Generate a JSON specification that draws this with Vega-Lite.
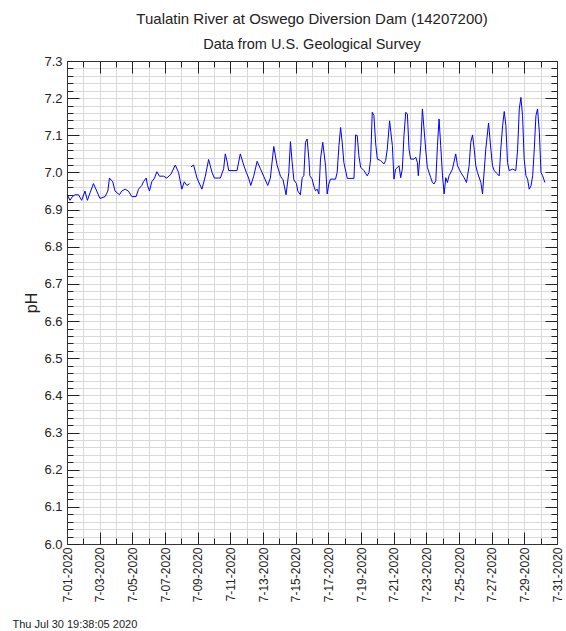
{
  "$schema": "https://vega.github.io/schema/vega-lite/v6.json",
  "width": 490,
  "height": 483,
  "padding": {"left": 12, "top": 12, "right": 2, "bottom": 3},
  "config": {"view": {"stroke": null}, "font": "Liberation Sans"},
  "title": {
    "text": "Tualatin River at Oswego Diversion Dam (14207200)",
    "subtitle": "Data from U.S. Geological Survey",
    "font": "Liberation Sans",
    "fontSize": 15,
    "fontWeight": "normal",
    "color": "#222222",
    "subtitleFont": "Liberation Sans",
    "subtitleFontSize": 14.5,
    "subtitleColor": "#222222",
    "subtitlePadding": 10.5,
    "anchor": "middle",
    "frame": "group",
    "offset": 4
  },
  "data": {
    "values": [
      {"t": "2020-07-01T00:30:00Z", "ph": 6.94, "seg": "a"},
      {"t": "2020-07-01T04:20:00Z", "ph": 6.925, "seg": "a"},
      {"t": "2020-07-01T08:00:00Z", "ph": 6.935, "seg": "a"},
      {"t": "2020-07-01T11:45:00Z", "ph": 6.94, "seg": "a"},
      {"t": "2020-07-01T16:50:00Z", "ph": 6.94, "seg": "a"},
      {"t": "2020-07-01T21:35:00Z", "ph": 6.925, "seg": "a"},
      {"t": "2020-07-02T02:25:00Z", "ph": 6.95, "seg": "a"},
      {"t": "2020-07-02T06:00:00Z", "ph": 6.925, "seg": "a"},
      {"t": "2020-07-02T09:50:00Z", "ph": 6.945, "seg": "a"},
      {"t": "2020-07-02T14:53:00Z", "ph": 6.97, "seg": "a"},
      {"t": "2020-07-02T19:41:00Z", "ph": 6.95, "seg": "a"},
      {"t": "2020-07-03T00:29:00Z", "ph": 6.93, "seg": "a"},
      {"t": "2020-07-03T07:55:00Z", "ph": 6.935, "seg": "a"},
      {"t": "2020-07-03T12:00:00Z", "ph": 6.95, "seg": "a"},
      {"t": "2020-07-03T14:24:00Z", "ph": 6.985, "seg": "a"},
      {"t": "2020-07-03T19:12:00Z", "ph": 6.975, "seg": "a"},
      {"t": "2020-07-03T22:34:00Z", "ph": 6.95, "seg": "a"},
      {"t": "2020-07-04T05:02:00Z", "ph": 6.94, "seg": "a"},
      {"t": "2020-07-04T08:24:00Z", "ph": 6.95, "seg": "a"},
      {"t": "2020-07-04T13:26:00Z", "ph": 6.955, "seg": "a"},
      {"t": "2020-07-04T18:14:00Z", "ph": 6.95, "seg": "a"},
      {"t": "2020-07-04T23:17:00Z", "ph": 6.935, "seg": "a"},
      {"t": "2020-07-05T05:31:00Z", "ph": 6.935, "seg": "a"},
      {"t": "2020-07-05T09:07:00Z", "ph": 6.955, "seg": "a"},
      {"t": "2020-07-05T13:55:00Z", "ph": 6.965, "seg": "a"},
      {"t": "2020-07-05T16:19:00Z", "ph": 6.975, "seg": "a"},
      {"t": "2020-07-05T20:24:00Z", "ph": 6.985, "seg": "a"},
      {"t": "2020-07-05T22:19:00Z", "ph": 6.965, "seg": "a"},
      {"t": "2020-07-06T01:12:00Z", "ph": 6.95, "seg": "a"},
      {"t": "2020-07-06T04:34:00Z", "ph": 6.975, "seg": "a"},
      {"t": "2020-07-06T08:38:00Z", "ph": 6.985, "seg": "a"},
      {"t": "2020-07-06T12:00:00Z", "ph": 7.002, "seg": "a"},
      {"t": "2020-07-06T15:50:00Z", "ph": 6.99, "seg": "a"},
      {"t": "2020-07-06T21:50:00Z", "ph": 6.99, "seg": "a"},
      {"t": "2020-07-07T02:38:00Z", "ph": 6.985, "seg": "a"},
      {"t": "2020-07-07T08:38:00Z", "ph": 6.995, "seg": "a"},
      {"t": "2020-07-07T15:07:00Z", "ph": 7.02, "seg": "a"},
      {"t": "2020-07-07T19:55:00Z", "ph": 7.0, "seg": "a"},
      {"t": "2020-07-08T00:43:00Z", "ph": 6.955, "seg": "a"},
      {"t": "2020-07-08T04:19:00Z", "ph": 6.975, "seg": "a"},
      {"t": "2020-07-08T08:10:00Z", "ph": 6.965, "seg": "a"},
      {"t": "2020-07-08T12:14:00Z", "ph": 6.97, "seg": "a"},
      {"t": "2020-07-08T14:10:00Z", "ph": 7.015, "seg": "b"},
      {"t": "2020-07-08T18:00:00Z", "ph": 7.02, "seg": "b"},
      {"t": "2020-07-08T23:02:00Z", "ph": 6.985, "seg": "b"},
      {"t": "2020-07-09T06:14:00Z", "ph": 6.955, "seg": "b"},
      {"t": "2020-07-09T11:17:00Z", "ph": 6.99, "seg": "b"},
      {"t": "2020-07-09T16:05:00Z", "ph": 7.035, "seg": "b"},
      {"t": "2020-07-09T21:07:00Z", "ph": 7.0, "seg": "b"},
      {"t": "2020-07-10T00:29:00Z", "ph": 6.985, "seg": "b"},
      {"t": "2020-07-10T09:22:00Z", "ph": 6.985, "seg": "b"},
      {"t": "2020-07-10T14:10:00Z", "ph": 7.01, "seg": "b"},
      {"t": "2020-07-10T16:34:00Z", "ph": 7.05, "seg": "b"},
      {"t": "2020-07-10T19:12:00Z", "ph": 7.03, "seg": "b"},
      {"t": "2020-07-10T21:36:00Z", "ph": 7.005, "seg": "b"},
      {"t": "2020-07-11T09:50:00Z", "ph": 7.005, "seg": "b"},
      {"t": "2020-07-11T14:38:00Z", "ph": 7.05, "seg": "b"},
      {"t": "2020-07-11T19:41:00Z", "ph": 7.02, "seg": "b"},
      {"t": "2020-07-11T23:31:00Z", "ph": 7.0, "seg": "b"},
      {"t": "2020-07-12T02:53:00Z", "ph": 6.985, "seg": "b"},
      {"t": "2020-07-12T06:00:00Z", "ph": 6.965, "seg": "b"},
      {"t": "2020-07-12T10:19:00Z", "ph": 6.99, "seg": "b"},
      {"t": "2020-07-12T15:22:00Z", "ph": 7.03, "seg": "b"},
      {"t": "2020-07-12T20:10:00Z", "ph": 7.01, "seg": "b"},
      {"t": "2020-07-13T00:58:00Z", "ph": 6.99, "seg": "b"},
      {"t": "2020-07-13T06:58:00Z", "ph": 6.965, "seg": "b"},
      {"t": "2020-07-13T10:48:00Z", "ph": 6.985, "seg": "b"},
      {"t": "2020-07-13T15:50:00Z", "ph": 7.07, "seg": "b"},
      {"t": "2020-07-13T20:38:00Z", "ph": 7.02, "seg": "b"},
      {"t": "2020-07-14T01:41:00Z", "ph": 6.99, "seg": "b"},
      {"t": "2020-07-14T05:31:00Z", "ph": 6.98, "seg": "b"},
      {"t": "2020-07-14T09:50:00Z", "ph": 6.94, "seg": "b"},
      {"t": "2020-07-14T13:55:00Z", "ph": 7.0, "seg": "b"},
      {"t": "2020-07-14T16:19:00Z", "ph": 7.083, "seg": "b"},
      {"t": "2020-07-14T18:43:00Z", "ph": 7.03, "seg": "b"},
      {"t": "2020-07-14T21:22:00Z", "ph": 6.98, "seg": "b"},
      {"t": "2020-07-15T01:12:00Z", "ph": 6.97, "seg": "b"},
      {"t": "2020-07-15T03:07:00Z", "ph": 6.95, "seg": "b"},
      {"t": "2020-07-15T06:58:00Z", "ph": 6.94, "seg": "b"},
      {"t": "2020-07-15T09:36:00Z", "ph": 6.986, "seg": "b"},
      {"t": "2020-07-15T12:00:00Z", "ph": 6.991, "seg": "b"},
      {"t": "2020-07-15T14:24:00Z", "ph": 7.081, "seg": "b"},
      {"t": "2020-07-15T16:48:00Z", "ph": 7.09, "seg": "b"},
      {"t": "2020-07-15T19:26:00Z", "ph": 7.036, "seg": "b"},
      {"t": "2020-07-15T20:53:00Z", "ph": 6.991, "seg": "b"},
      {"t": "2020-07-16T00:14:00Z", "ph": 6.982, "seg": "b"},
      {"t": "2020-07-16T02:38:00Z", "ph": 6.964, "seg": "b"},
      {"t": "2020-07-16T05:02:00Z", "ph": 6.951, "seg": "b"},
      {"t": "2020-07-16T07:41:00Z", "ph": 6.955, "seg": "b"},
      {"t": "2020-07-16T10:05:00Z", "ph": 6.942, "seg": "b"},
      {"t": "2020-07-16T12:29:00Z", "ph": 7.036, "seg": "b"},
      {"t": "2020-07-16T15:50:00Z", "ph": 7.081, "seg": "b"},
      {"t": "2020-07-16T19:55:00Z", "ph": 7.018, "seg": "b"},
      {"t": "2020-07-16T22:19:00Z", "ph": 6.942, "seg": "b"},
      {"t": "2020-07-17T00:43:00Z", "ph": 6.969, "seg": "b"},
      {"t": "2020-07-17T03:07:00Z", "ph": 6.982, "seg": "b"},
      {"t": "2020-07-17T10:34:00Z", "ph": 6.982, "seg": "b"},
      {"t": "2020-07-17T12:58:00Z", "ph": 7.0, "seg": "b"},
      {"t": "2020-07-17T15:36:00Z", "ph": 7.072, "seg": "b"},
      {"t": "2020-07-17T18:00:00Z", "ph": 7.121, "seg": "b"},
      {"t": "2020-07-17T20:24:00Z", "ph": 7.081, "seg": "b"},
      {"t": "2020-07-17T22:48:00Z", "ph": 7.027, "seg": "b"},
      {"t": "2020-07-18T03:50:00Z", "ph": 6.984, "seg": "b"},
      {"t": "2020-07-18T13:41:00Z", "ph": 6.984, "seg": "b"},
      {"t": "2020-07-18T16:05:00Z", "ph": 7.101, "seg": "b"},
      {"t": "2020-07-18T18:29:00Z", "ph": 7.099, "seg": "b"},
      {"t": "2020-07-18T20:53:00Z", "ph": 7.045, "seg": "b"},
      {"t": "2020-07-18T23:31:00Z", "ph": 7.014, "seg": "b"},
      {"t": "2020-07-19T04:19:00Z", "ph": 7.005, "seg": "b"},
      {"t": "2020-07-19T09:07:00Z", "ph": 6.991, "seg": "b"},
      {"t": "2020-07-19T11:46:00Z", "ph": 7.0, "seg": "b"},
      {"t": "2020-07-19T14:10:00Z", "ph": 7.036, "seg": "b"},
      {"t": "2020-07-19T16:34:00Z", "ph": 7.162, "seg": "b"},
      {"t": "2020-07-19T18:58:00Z", "ph": 7.153, "seg": "b"},
      {"t": "2020-07-19T21:36:00Z", "ph": 7.077, "seg": "b"},
      {"t": "2020-07-20T00:00:00Z", "ph": 7.036, "seg": "b"},
      {"t": "2020-07-20T04:48:00Z", "ph": 7.032, "seg": "b"},
      {"t": "2020-07-20T09:50:00Z", "ph": 7.023, "seg": "b"},
      {"t": "2020-07-20T12:14:00Z", "ph": 7.032, "seg": "b"},
      {"t": "2020-07-20T14:38:00Z", "ph": 7.063, "seg": "b"},
      {"t": "2020-07-20T18:00:00Z", "ph": 7.139, "seg": "b"},
      {"t": "2020-07-20T22:05:00Z", "ph": 7.072, "seg": "b"},
      {"t": "2020-07-21T00:29:00Z", "ph": 6.982, "seg": "b"},
      {"t": "2020-07-21T02:53:00Z", "ph": 7.009, "seg": "b"},
      {"t": "2020-07-21T07:55:00Z", "ph": 7.018, "seg": "b"},
      {"t": "2020-07-21T10:19:00Z", "ph": 6.986, "seg": "b"},
      {"t": "2020-07-21T12:43:00Z", "ph": 7.009, "seg": "b"},
      {"t": "2020-07-21T15:07:00Z", "ph": 7.099, "seg": "b"},
      {"t": "2020-07-21T17:46:00Z", "ph": 7.162, "seg": "b"},
      {"t": "2020-07-21T20:10:00Z", "ph": 7.157, "seg": "b"},
      {"t": "2020-07-21T22:34:00Z", "ph": 7.063, "seg": "b"},
      {"t": "2020-07-22T00:58:00Z", "ph": 7.036, "seg": "b"},
      {"t": "2020-07-22T06:00:00Z", "ph": 7.036, "seg": "b"},
      {"t": "2020-07-22T08:24:00Z", "ph": 7.041, "seg": "b"},
      {"t": "2020-07-22T10:48:00Z", "ph": 7.027, "seg": "b"},
      {"t": "2020-07-22T12:14:00Z", "ph": 6.991, "seg": "b"},
      {"t": "2020-07-22T15:50:00Z", "ph": 7.072, "seg": "b"},
      {"t": "2020-07-22T18:14:00Z", "ph": 7.171, "seg": "b"},
      {"t": "2020-07-22T20:38:00Z", "ph": 7.117, "seg": "b"},
      {"t": "2020-07-22T23:02:00Z", "ph": 7.063, "seg": "b"},
      {"t": "2020-07-23T01:26:00Z", "ph": 7.014, "seg": "b"},
      {"t": "2020-07-23T06:29:00Z", "ph": 6.986, "seg": "b"},
      {"t": "2020-07-23T08:53:00Z", "ph": 6.973, "seg": "b"},
      {"t": "2020-07-23T11:17:00Z", "ph": 6.969, "seg": "b"},
      {"t": "2020-07-23T13:55:00Z", "ph": 6.978, "seg": "b"},
      {"t": "2020-07-23T16:19:00Z", "ph": 7.072, "seg": "b"},
      {"t": "2020-07-23T18:43:00Z", "ph": 7.144, "seg": "b"},
      {"t": "2020-07-23T21:07:00Z", "ph": 7.072, "seg": "b"},
      {"t": "2020-07-23T23:46:00Z", "ph": 6.991, "seg": "b"},
      {"t": "2020-07-24T02:10:00Z", "ph": 6.942, "seg": "b"},
      {"t": "2020-07-24T04:34:00Z", "ph": 6.986, "seg": "b"},
      {"t": "2020-07-24T06:58:00Z", "ph": 6.973, "seg": "b"},
      {"t": "2020-07-24T09:22:00Z", "ph": 6.991, "seg": "b"},
      {"t": "2020-07-24T14:24:00Z", "ph": 7.009, "seg": "b"},
      {"t": "2020-07-24T19:12:00Z", "ph": 7.05, "seg": "b"},
      {"t": "2020-07-24T21:50:00Z", "ph": 7.018, "seg": "b"},
      {"t": "2020-07-25T02:38:00Z", "ph": 7.0, "seg": "b"},
      {"t": "2020-07-25T07:26:00Z", "ph": 6.986, "seg": "b"},
      {"t": "2020-07-25T11:02:00Z", "ph": 6.973, "seg": "b"},
      {"t": "2020-07-25T14:53:00Z", "ph": 7.018, "seg": "b"},
      {"t": "2020-07-25T17:17:00Z", "ph": 7.081, "seg": "b"},
      {"t": "2020-07-25T19:55:00Z", "ph": 7.101, "seg": "b"},
      {"t": "2020-07-25T22:19:00Z", "ph": 7.063, "seg": "b"},
      {"t": "2020-07-26T00:43:00Z", "ph": 7.018, "seg": "b"},
      {"t": "2020-07-26T03:07:00Z", "ph": 7.0, "seg": "b"},
      {"t": "2020-07-26T08:10:00Z", "ph": 6.973, "seg": "b"},
      {"t": "2020-07-26T10:34:00Z", "ph": 6.942, "seg": "b"},
      {"t": "2020-07-26T15:22:00Z", "ph": 7.063, "seg": "b"},
      {"t": "2020-07-26T19:26:00Z", "ph": 7.133, "seg": "b"},
      {"t": "2020-07-26T22:48:00Z", "ph": 7.063, "seg": "b"},
      {"t": "2020-07-27T01:12:00Z", "ph": 7.018, "seg": "b"},
      {"t": "2020-07-27T03:36:00Z", "ph": 7.005, "seg": "b"},
      {"t": "2020-07-27T08:38:00Z", "ph": 6.996, "seg": "b"},
      {"t": "2020-07-27T11:02:00Z", "ph": 6.991, "seg": "b"},
      {"t": "2020-07-27T13:26:00Z", "ph": 7.063, "seg": "b"},
      {"t": "2020-07-27T16:05:00Z", "ph": 7.126, "seg": "b"},
      {"t": "2020-07-27T18:29:00Z", "ph": 7.164, "seg": "b"},
      {"t": "2020-07-27T20:53:00Z", "ph": 7.126, "seg": "b"},
      {"t": "2020-07-27T23:17:00Z", "ph": 7.027, "seg": "b"},
      {"t": "2020-07-28T01:41:00Z", "ph": 7.005, "seg": "b"},
      {"t": "2020-07-28T06:43:00Z", "ph": 7.009, "seg": "b"},
      {"t": "2020-07-28T11:31:00Z", "ph": 7.005, "seg": "b"},
      {"t": "2020-07-28T14:10:00Z", "ph": 7.063, "seg": "b"},
      {"t": "2020-07-28T16:34:00Z", "ph": 7.171, "seg": "b"},
      {"t": "2020-07-28T18:58:00Z", "ph": 7.202, "seg": "b"},
      {"t": "2020-07-28T21:22:00Z", "ph": 7.153, "seg": "b"},
      {"t": "2020-07-28T23:46:00Z", "ph": 7.036, "seg": "b"},
      {"t": "2020-07-29T02:24:00Z", "ph": 6.991, "seg": "b"},
      {"t": "2020-07-29T04:48:00Z", "ph": 6.982, "seg": "b"},
      {"t": "2020-07-29T07:12:00Z", "ph": 6.955, "seg": "b"},
      {"t": "2020-07-29T09:50:00Z", "ph": 6.964, "seg": "b"},
      {"t": "2020-07-29T12:14:00Z", "ph": 6.991, "seg": "b"},
      {"t": "2020-07-29T14:38:00Z", "ph": 7.063, "seg": "b"},
      {"t": "2020-07-29T17:02:00Z", "ph": 7.153, "seg": "b"},
      {"t": "2020-07-29T19:26:00Z", "ph": 7.171, "seg": "b"},
      {"t": "2020-07-29T22:05:00Z", "ph": 7.108, "seg": "b"},
      {"t": "2020-07-30T00:29:00Z", "ph": 7.0, "seg": "b"},
      {"t": "2020-07-30T02:53:00Z", "ph": 6.991, "seg": "b"},
      {"t": "2020-07-30T06:14:00Z", "ph": 6.973, "seg": "b"}
    ]
  },
  "layer": [
    {
      "mark": {"type": "line", "color": "#0000ff", "strokeWidth": 1},
      "encoding": {
        "x": {
          "field": "t",
          "type": "temporal",
          "scale": {"type": "utc", "domain": [1593561600000, 1596153600000], "nice": false},
          "axis": {
            "orient": "bottom",
            "values": [1593561600000, 1593648000000, 1593734400000, 1593820800000, 1593907200000, 1593993600000, 1594080000000, 1594166400000, 1594252800000, 1594339200000, 1594425600000, 1594512000000, 1594598400000, 1594684800000, 1594771200000, 1594857600000, 1594944000000, 1595030400000, 1595116800000, 1595203200000, 1595289600000, 1595376000000, 1595462400000, 1595548800000, 1595635200000, 1595721600000, 1595808000000, 1595894400000, 1595980800000, 1596067200000, 1596153600000],
            "labelExpr": "utcdate(datum.value) % 2 == 1 ? utcFormat(datum.value, '%-m-%d-%Y') : ''",
            "labelAngle": 270,
            "labelAlign": "right",
            "labelBaseline": "middle",
            "labelFontSize": 12,
            "labelColor": "#222222",
            "labelPadding": 15,
            "labelOverlap": false,
            "labelFlush": false,
            "tickSize": {"condition": {"test": "utcdate(datum.value) % 2 == 1", "value": -12}, "value": -6},
            "tickColor": "#222222",
            "domainColor": "#333333",
            "grid": true,
            "gridColor": "#d9d9d9",
            "gridWidth": 1,
            "title": "Thu Jul 30 19:38:05 2020",
            "titleFontSize": 11,
            "titleFontWeight": "normal",
            "titleColor": "#222222",
            "titleAlign": "left",
            "titleAnchor": null,
            "titleBaseline": "alphabetic",
            "titleX": -55,
            "titleY": 83
          }
        },
        "y": {
          "field": "ph",
          "type": "quantitative",
          "scale": {"domain": [6.0, 7.3], "nice": false, "zero": false},
          "axis": {
            "orient": "left",
            "values": [6.0, 6.02, 6.04, 6.06, 6.08, 6.1, 6.12, 6.14, 6.16, 6.18, 6.2, 6.22, 6.24, 6.26, 6.28, 6.3, 6.32, 6.34, 6.36, 6.38, 6.4, 6.42, 6.44, 6.46, 6.48, 6.5, 6.52, 6.54, 6.56, 6.58, 6.6, 6.62, 6.64, 6.66, 6.68, 6.7, 6.72, 6.74, 6.76, 6.78, 6.8, 6.82, 6.84, 6.86, 6.88, 6.9, 6.92, 6.94, 6.96, 6.98, 7.0, 7.02, 7.04, 7.06, 7.08, 7.1, 7.12, 7.14, 7.16, 7.18, 7.2, 7.22, 7.24, 7.26, 7.28, 7.3],
            "labelExpr": "round(datum.value * 100) % 10 == 0 ? format(datum.value, '.1f') : ''",
            "labelFontSize": 13,
            "labelColor": "#222222",
            "labelPadding": 17,
            "labelOverlap": false,
            "labelFlush": false,
            "tickSize": {"condition": {"test": "round(datum.value * 100) % 10 == 0", "value": -12}, "value": -6},
            "tickColor": "#222222",
            "domainColor": "#333333",
            "grid": true,
            "gridColor": "#d9d9d9",
            "gridWidth": 1,
            "title": "pH",
            "titleFontSize": 16,
            "titleFontWeight": "normal",
            "titleColor": "#222222",
            "titlePadding": 4
          }
        },
        "detail": {"field": "seg"}
      }
    },
    {
      "mark": {"type": "line", "opacity": 0},
      "encoding": {
        "x": {
          "field": "t",
          "type": "temporal",
          "axis": {
            "orient": "top",
            "values": [1593561600000, 1593648000000, 1593734400000, 1593820800000, 1593907200000, 1593993600000, 1594080000000, 1594166400000, 1594252800000, 1594339200000, 1594425600000, 1594512000000, 1594598400000, 1594684800000, 1594771200000, 1594857600000, 1594944000000, 1595030400000, 1595116800000, 1595203200000, 1595289600000, 1595376000000, 1595462400000, 1595548800000, 1595635200000, 1595721600000, 1595808000000, 1595894400000, 1595980800000, 1596067200000, 1596153600000],
            "labels": false,
            "grid": false,
            "title": null,
            "tickSize": {"condition": {"test": "utcdate(datum.value) % 2 == 1", "value": -12}, "value": -6},
            "tickColor": "#222222",
            "domainColor": "#333333"
          }
        },
        "y": {
          "field": "ph",
          "type": "quantitative",
          "axis": {
            "orient": "right",
            "values": [6.0, 6.02, 6.04, 6.06, 6.08, 6.1, 6.12, 6.14, 6.16, 6.18, 6.2, 6.22, 6.24, 6.26, 6.28, 6.3, 6.32, 6.34, 6.36, 6.38, 6.4, 6.42, 6.44, 6.46, 6.48, 6.5, 6.52, 6.54, 6.56, 6.58, 6.6, 6.62, 6.64, 6.66, 6.68, 6.7, 6.72, 6.74, 6.76, 6.78, 6.8, 6.82, 6.84, 6.86, 6.88, 6.9, 6.92, 6.94, 6.96, 6.98, 7.0, 7.02, 7.04, 7.06, 7.08, 7.1, 7.12, 7.14, 7.16, 7.18, 7.2, 7.22, 7.24, 7.26, 7.28, 7.3],
            "labels": false,
            "grid": false,
            "title": null,
            "tickSize": {"condition": {"test": "round(datum.value * 100) % 10 == 0", "value": -12}, "value": -6},
            "tickColor": "#222222",
            "domainColor": "#333333"
          }
        },
        "detail": {"field": "seg"}
      }
    }
  ],
  "resolve": {"axis": {"x": "independent", "y": "independent"}}
}
